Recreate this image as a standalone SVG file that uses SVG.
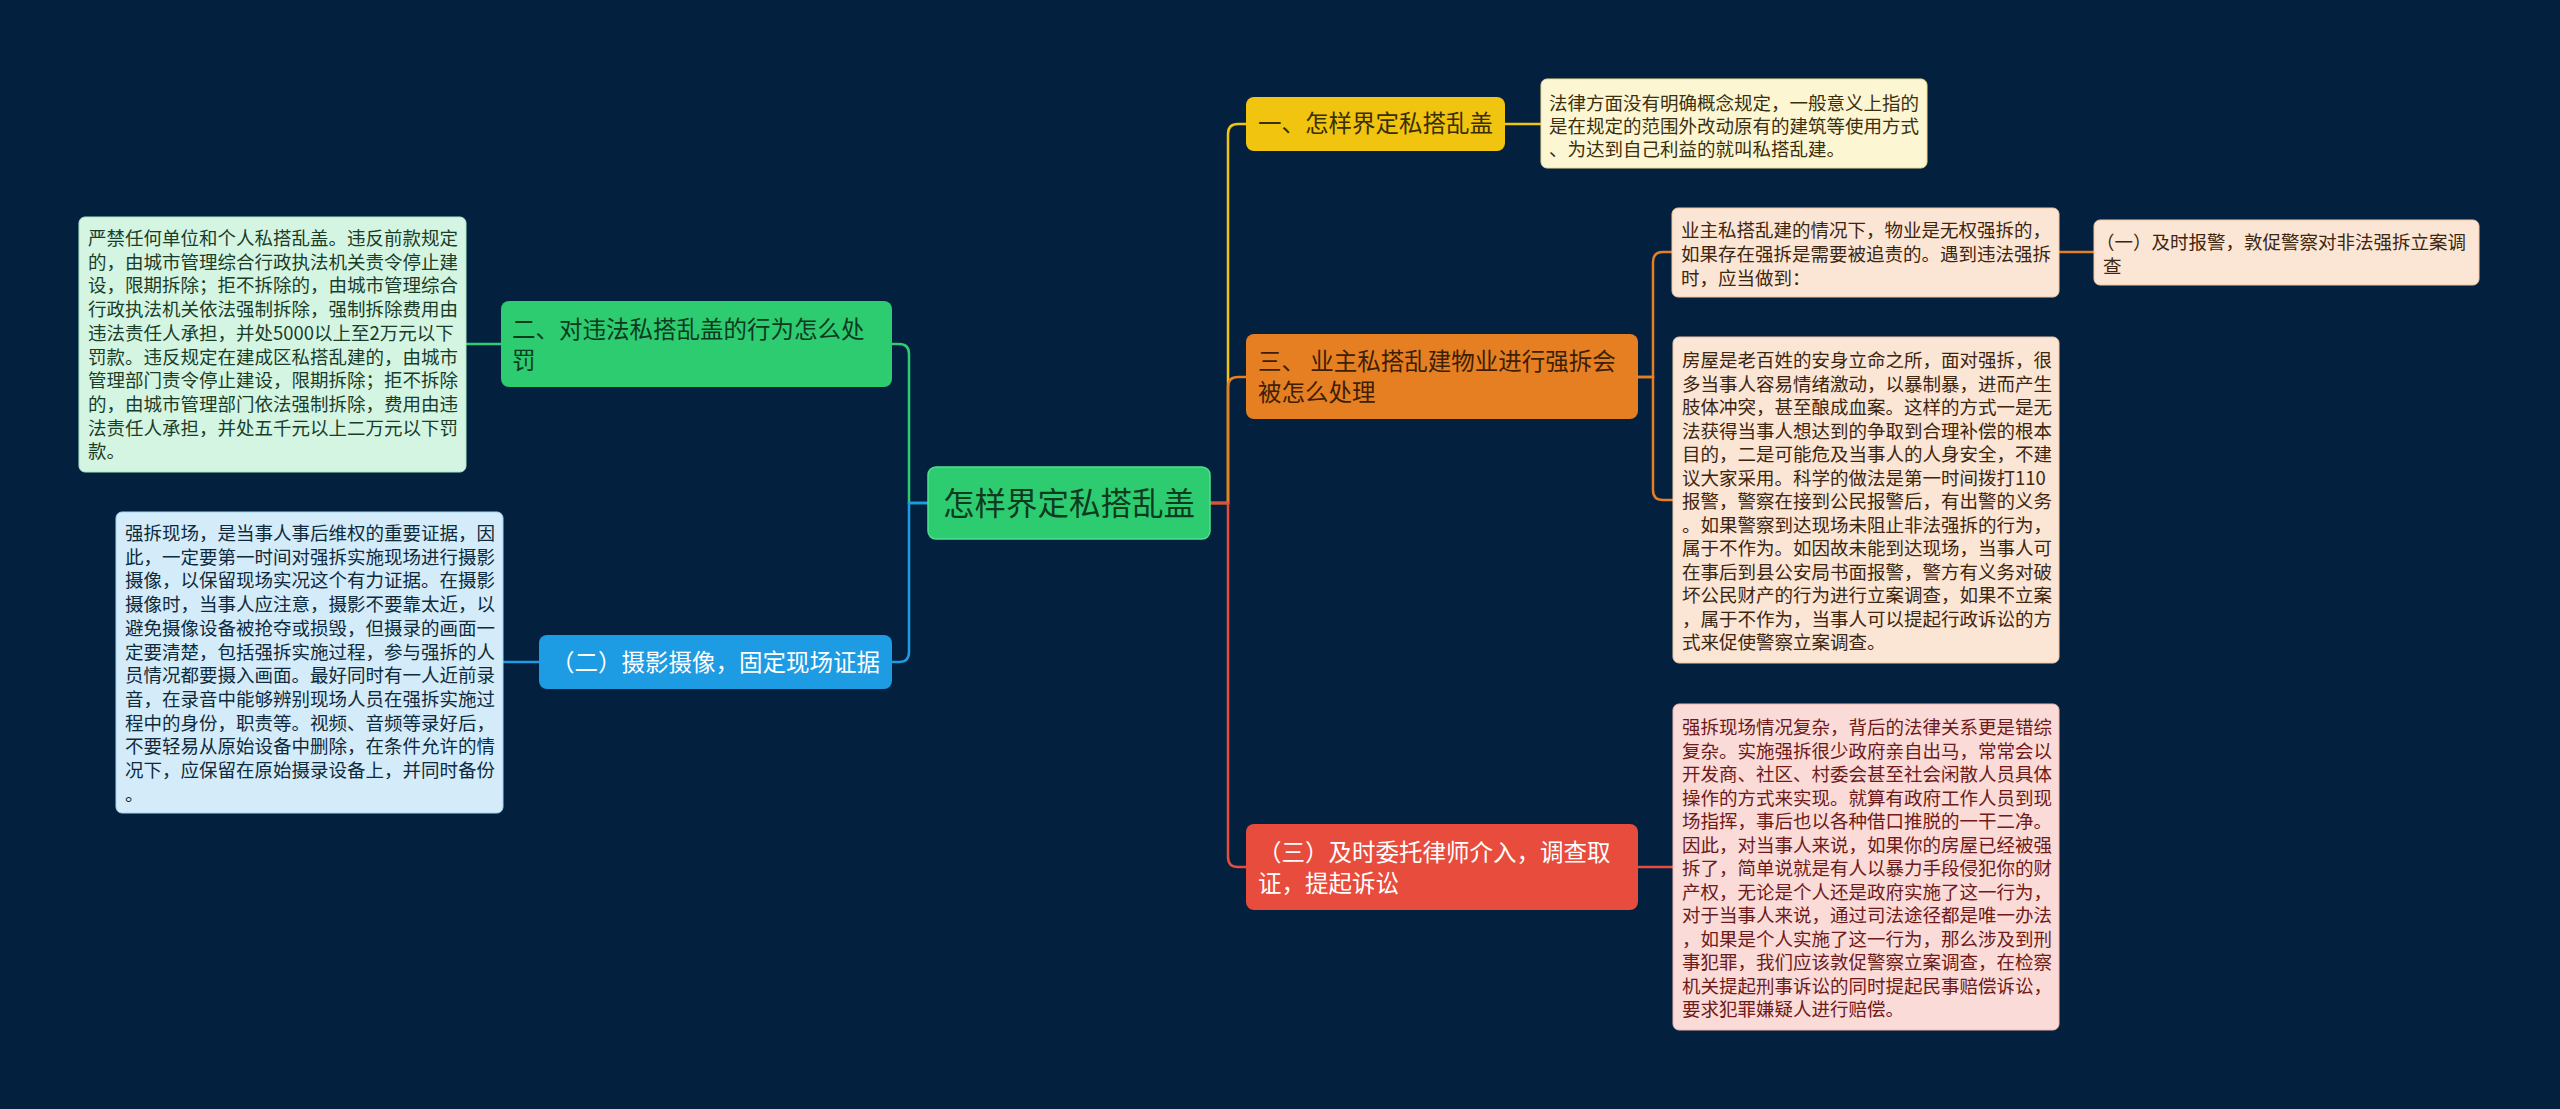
<svg xmlns="http://www.w3.org/2000/svg" width="2560" height="1109" viewBox="0 0 2560 1109">
<style>
text{font-family:"Noto Sans CJK SC","Noto Sans",sans-serif;}
.leaf{font-size:18.5px;}
.node{font-size:23.5px;}
.c{fill:none;stroke-width:2.5;}
</style>
<rect x="0" y="0" width="2560" height="1109" fill="#03203f"/>
<g id="connectors">
  <path class="c" stroke="#f1c40f" d="M1210,503 H1228 V134 Q1228,124 1238,124 H1246"/>
  <path class="c" stroke="#e67e22" d="M1210,503 H1228 V387 Q1228,377 1238,377 H1246"/>
  <path class="c" stroke="#e74c3c" d="M1210,503 H1228 V857 Q1228,867 1238,867 H1246"/>
  <path class="c" stroke="#2ecc71" d="M928,503 H909 V354 Q909,344 899,344 H892"/>
  <path class="c" stroke="#1d9be3" d="M928,503 H909 V652 Q909,662 899,662 H892"/>
  <path class="c" stroke="#f1c40f" d="M1505,124 H1541"/>
  <path class="c" stroke="#2ecc71" d="M501,344 H466"/>
  <path class="c" stroke="#1d9be3" d="M539,662 H503"/>
  <path class="c" stroke="#e67e22" d="M1638,377 H1653 V262 Q1653,252 1663,252 H1672"/>
  <path class="c" stroke="#e67e22" d="M1638,377 H1653 V490 Q1653,500 1663,500 H1673"/>
  <path class="c" stroke="#e67e22" d="M2059,252 H2094"/>
  <path class="c" stroke="#e74c3c" d="M1638,867 H1673"/>
</g>
<g id="center">
  <rect x="928" y="467" width="282" height="72" rx="8" fill="#2ecc71" stroke="#4fe08d" stroke-width="1.5"/>
  <text x="943" y="515" font-size="31.5" fill="#0d3b1e">怎样界定私搭乱盖</text>
</g>
<g id="n1">
  <rect x="1246" y="97" width="259" height="54" rx="8" fill="#f1c40f"/>
  <text class="node" x="1258" y="132" fill="#3a2e05">一、怎样界定私搭乱盖</text>
</g>
<g id="n1-leaf">
  <rect x="1541" y="79" width="386" height="89" rx="6" fill="#fdf6d3" stroke="#f1dc8a" stroke-width="1"/>
  <text class="leaf" fill="#3a3010"><tspan x="1549" y="110">法律方面没有明确概念规定，一般意义上指的</tspan><tspan x="1549" y="133">是在规定的范围外改动原有的建筑等使用方式</tspan><tspan x="1549" y="156">、为达到自己利益的就叫私搭乱建。</tspan></text>
</g>
<g id="n2">
  <rect x="501" y="301" width="391" height="86" rx="8" fill="#2ecc71"/>
  <text class="node" fill="#0d3b1e"><tspan x="512" y="338">二、对违法私搭乱盖的行为怎么处</tspan><tspan x="512" y="369">罚</tspan></text>
</g>
<g id="n2-leaf">
  <rect x="79" y="217" width="387" height="255" rx="6" fill="#d5f5e3" stroke="#a9e8c4" stroke-width="1"/>
  <text class="leaf" fill="#1a3d2a"><tspan x="88" y="245">严禁任何单位和个人私搭乱盖。违反前款规定</tspan><tspan x="88" y="268.7">的，由城市管理综合行政执法机关责令停止建</tspan><tspan x="88" y="292.4">设，限期拆除；拒不拆除的，由城市管理综合</tspan><tspan x="88" y="316.1">行政执法机关依法强制拆除，强制拆除费用由</tspan><tspan x="88" y="339.8">违法责任人承担，并处5000以上至2万元以下</tspan><tspan x="88" y="363.5">罚款。违反规定在建成区私搭乱建的，由城市</tspan><tspan x="88" y="387.2">管理部门责令停止建设，限期拆除；拒不拆除</tspan><tspan x="88" y="410.9">的，由城市管理部门依法强制拆除，费用由违</tspan><tspan x="88" y="434.6">法责任人承担，并处五千元以上二万元以下罚</tspan><tspan x="88" y="458.3">款。</tspan></text>
</g>
<g id="n3">
  <rect x="539" y="635" width="353" height="54" rx="8" fill="#1d9be3"/>
  <text class="node" x="551" y="671" fill="#ffffff">（二）摄影摄像，固定现场证据</text>
</g>
<g id="n3-leaf">
  <rect x="116" y="512" width="387" height="301" rx="6" fill="#d4ecf9" stroke="#a6d3ef" stroke-width="1"/>
  <text class="leaf" fill="#0e2a3d"><tspan x="125" y="540">强拆现场，是当事人事后维权的重要证据，因</tspan><tspan x="125" y="563.7">此，一定要第一时间对强拆实施现场进行摄影</tspan><tspan x="125" y="587.4">摄像，以保留现场实况这个有力证据。在摄影</tspan><tspan x="125" y="611.1">摄像时，当事人应注意，摄影不要靠太近，以</tspan><tspan x="125" y="634.8">避免摄像设备被抢夺或损毁，但摄录的画面一</tspan><tspan x="125" y="658.5">定要清楚，包括强拆实施过程，参与强拆的人</tspan><tspan x="125" y="682.2">员情况都要摄入画面。最好同时有一人近前录</tspan><tspan x="125" y="705.9">音，在录音中能够辨别现场人员在强拆实施过</tspan><tspan x="125" y="729.6">程中的身份，职责等。视频、音频等录好后，</tspan><tspan x="125" y="753.3">不要轻易从原始设备中删除，在条件允许的情</tspan><tspan x="125" y="777">况下，应保留在原始摄录设备上，并同时备份</tspan><tspan x="125" y="800.7">。</tspan></text>
</g>
<g id="n4">
  <rect x="1246" y="334" width="392" height="85" rx="8" fill="#e67e22"/>
  <text class="node" fill="#3d1f05"><tspan x="1258" y="370">三、 业主私搭乱建物业进行强拆会</tspan><tspan x="1258" y="401">被怎么处理</tspan></text>
</g>
<g id="n4-leaf-a">
  <rect x="1672" y="208" width="387" height="89" rx="6" fill="#fbe5d4" stroke="#f2c7a3" stroke-width="1"/>
  <text class="leaf" fill="#3d2610"><tspan x="1681" y="237">业主私搭乱建的情况下，物业是无权强拆的，</tspan><tspan x="1681" y="261">如果存在强拆是需要被追责的。遇到违法强拆</tspan><tspan x="1681" y="285">时，应当做到：</tspan></text>
</g>
<g id="n4-leaf-b">
  <rect x="2094" y="220" width="385" height="65" rx="6" fill="#fbe5d4" stroke="#f2c7a3" stroke-width="1"/>
  <text class="leaf" fill="#3d2610"><tspan x="2096" y="249">（一）及时报警，敦促警察对非法强拆立案调</tspan><tspan x="2103" y="273">查</tspan></text>
</g>
<g id="n4-leaf-c">
  <rect x="1673" y="337" width="386" height="326" rx="6" fill="#fbe5d4" stroke="#f2c7a3" stroke-width="1"/>
  <text class="leaf" fill="#3d2610"><tspan x="1682" y="367">房屋是老百姓的安身立命之所，面对强拆，很</tspan><tspan x="1682" y="390.5">多当事人容易情绪激动，以暴制暴，进而产生</tspan><tspan x="1682" y="414">肢体冲突，甚至酿成血案。这样的方式一是无</tspan><tspan x="1682" y="437.5">法获得当事人想达到的争取到合理补偿的根本</tspan><tspan x="1682" y="461">目的，二是可能危及当事人的人身安全，不建</tspan><tspan x="1682" y="484.5">议大家采用。科学的做法是第一时间拨打110</tspan><tspan x="1682" y="508">报警，警察在接到公民报警后，有出警的义务</tspan><tspan x="1682" y="531.5">。如果警察到达现场未阻止非法强拆的行为，</tspan><tspan x="1682" y="555">属于不作为。如因故未能到达现场，当事人可</tspan><tspan x="1682" y="578.5">在事后到县公安局书面报警，警方有义务对破</tspan><tspan x="1682" y="602">坏公民财产的行为进行立案调查，如果不立案</tspan><tspan x="1682" y="625.5">，属于不作为，当事人可以提起行政诉讼的方</tspan><tspan x="1682" y="649">式来促使警察立案调查。</tspan></text>
</g>
<g id="n5">
  <rect x="1246" y="824" width="392" height="86" rx="8" fill="#e74c3c"/>
  <text class="node" fill="#ffffff"><tspan x="1258" y="861">（三）及时委托律师介入，调查取</tspan><tspan x="1258" y="892">证，提起诉讼</tspan></text>
</g>
<g id="n5-leaf">
  <rect x="1673" y="704" width="386" height="326" rx="6" fill="#fadbd8" stroke="#f0b5ae" stroke-width="1"/>
  <text class="leaf" fill="#6e1a1a"><tspan x="1682" y="734">强拆现场情况复杂，背后的法律关系更是错综</tspan><tspan x="1682" y="757.5">复杂。实施强拆很少政府亲自出马，常常会以</tspan><tspan x="1682" y="781">开发商、社区、村委会甚至社会闲散人员具体</tspan><tspan x="1682" y="804.5">操作的方式来实现。就算有政府工作人员到现</tspan><tspan x="1682" y="828">场指挥，事后也以各种借口推脱的一干二净。</tspan><tspan x="1682" y="851.5">因此，对当事人来说，如果你的房屋已经被强</tspan><tspan x="1682" y="875">拆了，简单说就是有人以暴力手段侵犯你的财</tspan><tspan x="1682" y="898.5">产权，无论是个人还是政府实施了这一行为，</tspan><tspan x="1682" y="922">对于当事人来说，通过司法途径都是唯一办法</tspan><tspan x="1682" y="945.5">，如果是个人实施了这一行为，那么涉及到刑</tspan><tspan x="1682" y="969">事犯罪，我们应该敦促警察立案调查，在检察</tspan><tspan x="1682" y="992.5">机关提起刑事诉讼的同时提起民事赔偿诉讼，</tspan><tspan x="1682" y="1016">要求犯罪嫌疑人进行赔偿。</tspan></text>
</g>
</svg>
